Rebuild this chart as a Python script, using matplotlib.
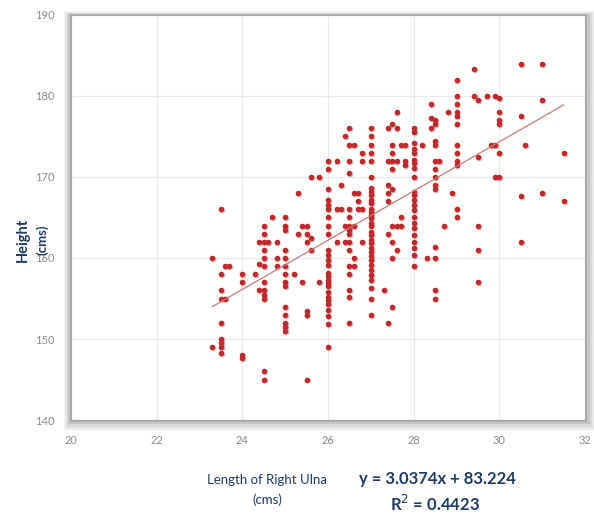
import numpy as np
import matplotlib
matplotlib.use("Agg")
import matplotlib.pyplot as plt

plt.rcParams['font.family'] = ['Lato', 'DejaVu Sans']

# ulna length (cm) / height (cm)
ulna_a = [23.3, 23.3,
          23.5, 23.5, 23.5, 23.5, 23.5, 23.5, 23.5, 23.5, 23.5,
          23.6, 23.6, 23.7,
          24.0, 24.0, 24.0, 24.0, 24.3, 24.4, 24.4, 24.4,
          24.5, 24.5, 24.5, 24.5, 24.5, 24.5, 24.5, 24.5, 24.5, 24.5, 24.5, 24.5,
          24.6, 24.7, 24.8, 24.8, 24.8,
          25.0, 25.0, 25.0, 25.0, 25.0, 25.0, 25.0, 25.0, 25.0, 25.0, 25.0, 25.0, 25.0, 25.0,
          25.2, 25.3, 25.3, 25.4, 25.4,
          25.5, 25.5, 25.5, 25.5, 25.5, 25.5,
          25.6, 25.6, 25.6, 25.8, 25.8]
height_a = [160, 149,
            166, 158, 156, 155, 152, 150, 149.5, 149, 148.3,
            159, 155, 159,
            158, 157, 148, 147.7, 158, 159.3, 156, 162,
            164, 163, 162, 161, 160, 159, 157, 156, 155.4, 155, 146, 145,
            162, 165, 162, 160, 159,
            165, 164, 163.5, 161, 160, 159, 158, 157, 156.5, 154, 153, 152, 151.5, 151,
            158, 168, 163, 157, 164,
            164, 163, 162, 153.5, 153, 145,
            162.5, 161, 170, 170, 157]

ulna_b = [26.0] * 26 + [26.2, 26.2, 26.2, 26.3, 26.3, 26.4, 26.4, 26.4] + \
         [26.5] * 16 + [26.6] * 5 + [26.7] * 3 + [26.8] * 4
height_b = [172, 171, 168.5, 167.2, 166.6, 166, 165, 164, 163,
            161, 160.4, 159.8, 159.1, 158.1, 157.8, 157.3, 156.9, 156.5,
            155.8, 155.2, 154.8, 154.3, 153.6, 152.8, 151.9, 149,
            172, 166, 162, 169, 166, 175, 164, 162,
            176, 174, 172, 170.5, 166, 165, 164, 163.5, 163, 162, 161, 159, 158, 156, 155.2, 152,
            174, 168, 164, 160, 159,
            168, 167, 166,
            173, 172, 166, 162]

ulna_c = [27.0] * 32 + [27.3] + [27.4] * 7 + [27.5] * 10 + [27.6] * 5 + \
         [27.7] * 3 + [27.8] * 3
height_c = [176, 175, 174, 173, 172, 170,
            168.6, 168.2, 167.8, 167.2, 166.8, 166.1, 165.7, 165.3, 164.9, 164.3,
            163.9, 163.2, 162.8, 162.2, 161.8, 161.2, 160.8, 160.2, 159.8, 159.1,
            158.5, 157.9, 157.3, 156.3,
            155, 153,
            156,
            176, 172, 169, 168, 167, 163, 152,
            176.5, 174, 173, 172, 171, 168.5, 164, 162, 160, 154,
            178, 176, 172, 164, 161,
            174, 165, 164,
            174, 172, 171.5]

ulna_d = [28.0] * 22 + [28.2, 28.3, 28.4, 28.4, 28.4] + [28.5] * 13 + \
         [28.6, 28.7, 28.8, 28.9] + [29.0] * 12 + [29.4, 29.4] + [29.5] * 5 + \
         [29.7, 29.8, 29.9, 29.9, 29.9] + [30.0] * 6 + [30.5] * 4 + [30.6] + \
         [31.0] * 3 + [31.5] * 2
height_d = [176, 175.6, 174.2, 173.5, 172.9, 172.1, 171.7, 171.1, 170,
            168.2, 167.8, 167.2, 166.5, 165.9, 165.1, 164.3, 163.7, 162.8, 162,
            161.2, 160.4, 159,
            174, 160, 179, 177.3, 176,
            177, 176.5, 174.5, 174, 172, 171, 170, 169, 168.5, 161.4, 160, 156, 155,
            172, 164, 178, 168,
            182, 180, 179, 178, 177.5, 176.5, 174, 173, 172, 171.5, 166, 165,
            183.3, 180,
            179.5, 172.5, 164, 161, 157,
            180, 174, 180, 174, 170,
            179.7, 178, 177, 176.5, 173, 170,
            184, 177.5, 167.7, 162,
            174,
            184, 179.5, 168,
            173, 167]

slope = 3.0374
intercept = 83.224
r_squared = 0.4423

x_ticks = [20, 22, 24, 26, 28, 30, 32]
y_ticks = [140, 150, 160, 170, 180, 190]

ulna = np.array(ulna_a + ulna_b + ulna_c + ulna_d)
height = np.array(height_a + height_b + height_c + height_d)

fig = plt.figure(figsize=(5.94, 5.16), dpi=100)
ax = fig.add_axes([0.1195, 0.186, 0.8655, 0.785])

# soft grey drop shadow around the plot area
pos = ax.get_position()
for i, a in enumerate([0.05, 0.07, 0.09, 0.12, 0.18]):
    d = (5 - i) * 0.0035
    fig.patches.append(plt.Rectangle((pos.x0 - d * 0.7, pos.y0 - d * 1.2),
                                     pos.width + d * 1.8, pos.height + d * 1.6,
                                     transform=fig.transFigure, color='#404040',
                                     alpha=a, zorder=0, lw=0))

ax.set_facecolor('white')
ax.set_zorder(2)
ax.grid(True, color='#e3eaf0', lw=0.8)
ax.set_axisbelow(True)

ax.scatter(ulna + 0.02, height - 0.12, s=19, color='#555555', alpha=0.3,
           lw=0, zorder=2)
ax.scatter(ulna, height, s=16, color='#c4262b', lw=0, zorder=3)

xs = np.array([ulna.min(), ulna.max()])
ax.plot(xs, slope * xs + intercept, color='#c97a7a', lw=0.9, zorder=4)

ax.set_xlim(20, 32)
ax.set_ylim(140, 190)
ax.set_xticks(x_ticks)
ax.set_yticks(y_ticks)
ax.tick_params(length=0, labelsize=8, labelcolor='#8a8a8a')
ax.tick_params(axis='x', pad=11)
ax.tick_params(axis='y', pad=12)
for s in ax.spines.values():
    s.set_color('#a8a8a8')
    s.set_linewidth(0.8)

navy = '#1f3b66'
fig.text(0.039, 0.535, 'Height', rotation=90, ha='center', va='center',
         fontsize=10.5, fontweight='bold', color=navy)
fig.text(0.071, 0.535, '(cms)', rotation=90, ha='center', va='center',
         fontsize=9.5, fontweight='bold', color=navy)

fig.text(0.45, 0.07, 'Length of Right Ulna', ha='center', va='center',
         fontsize=9.5, color=navy)
fig.text(0.45, 0.031, '(cms)', ha='center', va='center',
         fontsize=9.5, color=navy)
fig.text(0.736, 0.072, 'y = %.4fx + %.3f' % (slope, intercept), ha='center',
         va='center', fontsize=12, fontweight='bold', color=navy)
fig.text(0.733, 0.023, 'R$^2$ = %.4f' % r_squared, ha='center', va='center',
         fontsize=12, fontweight='bold', color=navy)

fig.savefig('out.png', dpi=100)
